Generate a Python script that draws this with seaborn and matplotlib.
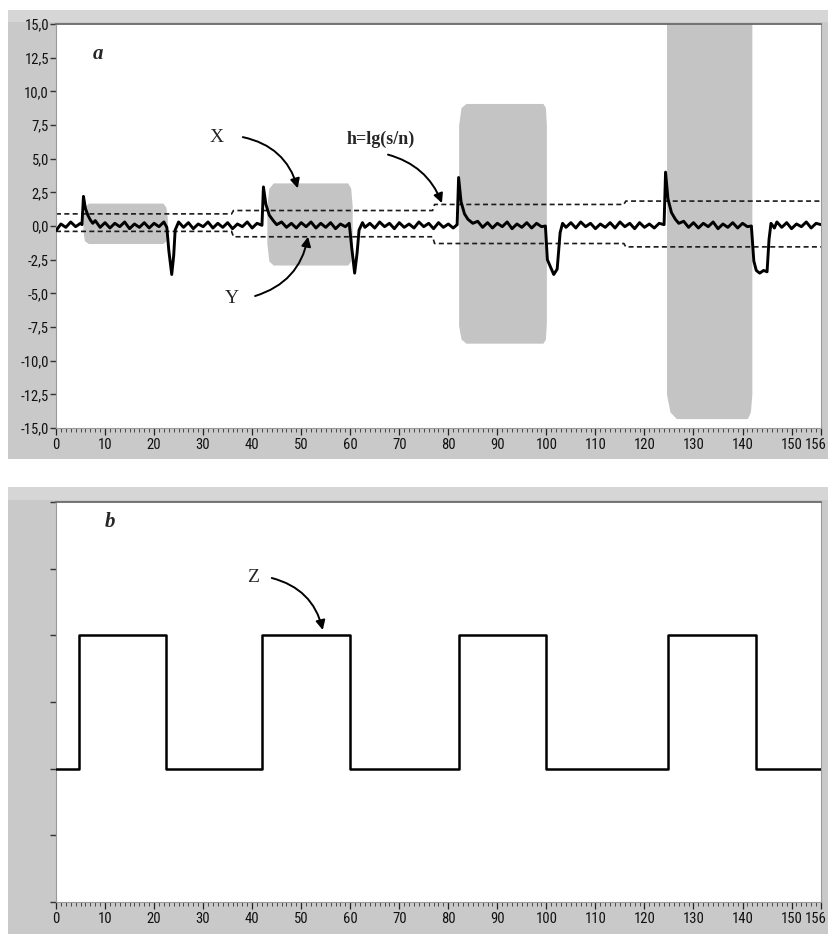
import matplotlib
matplotlib.use("Agg")
import matplotlib.pyplot as plt
from matplotlib.patches import Rectangle
from matplotlib import font_manager
import matplotlib.transforms as mtransforms
import seaborn as sns
import pandas as pd

# ---------------- data ----------------
# panel a: noisy response trace
trace_x = [0, 1, 2, 3, 4, 5, 5.3, 5.6, 6.0, 6.5, 7, 7.5, 8, 9, 10, 11, 12, 13, 14, 15, 16, 17, 18, 19, 20, 21, 22,
           22.6, 23.0, 23.6, 24.0, 24.3, 25, 26, 27, 28, 29, 30, 31, 32, 33, 34, 35, 36, 37, 38, 39, 40, 41,
           42.0, 42.3, 42.8, 43.5, 44.3, 45, 46, 47, 48, 49, 50, 51, 52, 53, 54, 55, 56, 57, 58, 59,
           59.8, 60.3, 60.9, 61.4, 61.8, 62.5, 63, 64, 65, 66, 67, 68, 69, 70, 71, 72, 73, 74, 75, 76, 77, 78, 79, 80, 81,
           81.8, 82.1, 82.6, 83.3, 84, 85, 86, 87, 88, 89, 90, 91, 92, 93, 94, 95, 96, 97, 98, 99,
           99.8, 100.2, 100.8, 101.5, 102.2, 102.8, 103.3, 104, 105, 106, 107, 108, 109, 110, 111, 112, 113, 114,
           115, 116, 117, 118, 119, 120, 121, 122, 123,
           124.0, 124.3, 124.8, 125.5, 126.3, 127, 128, 129, 130, 131, 132, 133, 134, 135, 136, 137, 138, 139, 140, 141,
           141.8, 142.3, 142.8, 143.5, 144.3, 145, 145.4, 145.8, 146.5, 147, 148, 149, 150, 151, 152, 153, 154, 155, 156]
trace_y = [-0.35, 0.15, -0.1, 0.3, -0.05, 0.2, 0.1, 2.2, 1.3, 0.8, 0.45, 0.2, 0.4, -0.1, 0.25, -0.15, 0.2, -0.05, 0.3, -0.2, 0.15, -0.1, 0.25, -0.15, 0.2, -0.05, 0.3,
           -0.1, -1.8, -3.6, -2.2, -0.3, 0.3, -0.1, 0.25, -0.2, 0.15, -0.05, 0.3, -0.15, 0.2, -0.1, 0.25, -0.2, 0.15, -0.05, 0.3, -0.15, 0.2,
           0.05, 2.9, 1.6, 0.8, 0.4, 0.1, 0.3, -0.1, 0.2, -0.15, 0.25, -0.05, 0.3, -0.15, 0.2, -0.1, 0.25, -0.2, 0.15, -0.05,
           0.2, -1.6, -3.5, -2.0, -0.3, 0.25, -0.1, 0.2, -0.15, 0.3, -0.05, 0.2, -0.2, 0.25, -0.1, 0.15, -0.15, 0.3, -0.05, 0.2, -0.2, 0.25, -0.1, 0.15, -0.15,
           0.1, 3.6, 1.8, 0.9, 0.5, 0.2, 0.35, -0.1, 0.25, -0.15, 0.2, -0.05, 0.3, -0.2, 0.15, -0.1, 0.25, -0.15, 0.2, -0.05,
           0.0, -2.5, -3.0, -3.6, -3.2, -0.5, 0.2, -0.1, 0.25, -0.15, 0.3, -0.05, 0.2, -0.2, 0.15, -0.1, 0.25, -0.15,
           0.3, -0.05, 0.2, -0.2, 0.25, -0.1, 0.15, -0.15, 0.2,
           0.1, 4.0, 2.0, 1.0, 0.5, 0.2, 0.35, -0.1, 0.25, -0.15, 0.2, -0.05, 0.3, -0.2, 0.15, -0.1, 0.25, -0.15, 0.2, -0.05,
           0.0, -2.6, -3.3, -3.5, -3.3, -3.4, -1.0, 0.2, -0.15, 0.3, -0.1, 0.25, -0.2, 0.15, -0.05, 0.3, -0.15, 0.2, 0.1]

# panel a: grey stimulus bursts (envelope upper/lower)
burst1_x = [5.5, 5.8, 6.6, 21.8, 22.4, 22.7]
burst1_hi = [0.6, 1.4, 1.7, 1.7, 1.4, 0.6]
burst1_lo = [-0.4, -1.1, -1.3, -1.3, -1.1, -0.4]
burst2_x = [43.0, 43.4, 44.3, 59.5, 60.1, 60.4]
burst2_hi = [1.5, 2.8, 3.2, 3.2, 2.8, 1.5]
burst2_lo = [-1.3, -2.6, -2.9, -2.9, -2.6, -1.3]
burst3_x = [82.1, 82.6, 83.6, 99.3, 99.8, 100.0]
burst3_hi = [7.5, 8.8, 9.1, 9.1, 8.8, 7.5]
burst3_lo = [-7.4, -8.4, -8.7, -8.7, -8.4, -7.2]
burst4_x = [124.5, 125.2, 126.5, 141.0, 141.6, 141.9]
burst4_hi = [15.5, 17.0, 17.5, 17.5, 17.0, 15.5]
burst4_lo = [-12.5, -13.8, -14.3, -14.3, -13.8, -12.5]

# panel a: threshold h = lg(s/n) (dashed)
thr_x = [0, 35.8, 36.2, 76.8, 77.2, 115.8, 116.2, 156]
thr_hi = [0.9, 0.9, 1.15, 1.15, 1.6, 1.6, 1.85, 1.85]
thr_lo = [-0.4, -0.4, -0.8, -0.8, -1.3, -1.3, -1.55, -1.55]

# panel b: square wave Z
sq_x = [0, 4.7, 22.4, 42.0, 59.9, 82.1, 99.9, 124.7, 142.7, 156]
sq_y = [2, 4, 2, 4, 2, 4, 2, 4, 2, 2]

x_major = [0, 10, 20, 30, 40, 50, 60, 70, 80, 90, 100, 110, 120, 130, 140, 150, 156]
y_ticks_a = [-15.0, -12.5, -10.0, -7.5, -5.0, -2.5, 0.0, 2.5, 5.0, 7.5, 10.0, 12.5, 15.0]
y_ticks_b = [0, 1, 2, 3, 4, 5, 6]

# ---------------- style ----------------
sns.set_theme(style="white")
def pick(names):
    for n in names:
        try:
            font_manager.findfont(n, fallback_to_default=False)
            return n
        except Exception:
            pass
    return "DejaVu Sans"
tick_font = pick(["Liberation Sans Narrow", "Roboto Condensed", "DejaVu Sans Condensed", "Liberation Sans"])
serif = pick(["Liberation Serif", "DejaVu Serif"])
plt.rcParams["font.family"] = [tick_font, "DejaVu Sans"]

W, H = 829, 934
fig = plt.figure(figsize=(W / 100, H / 100), dpi=100)
fig.patch.set_facecolor("white")

# grey instrument frames
frame_col = "#c9c9c9"
fig.add_artist(Rectangle((8 / W, 1 - 459 / H), (W - 8) / W, (459 - 10) / H,
                         transform=fig.transFigure, facecolor=frame_col, edgecolor="none", zorder=0))
fig.add_artist(Rectangle((8 / W, 1 - 934 / H), (W - 8) / W, (934 - 487) / H,
                         transform=fig.transFigure, facecolor=frame_col, edgecolor="none", zorder=0))
fig.add_artist(Rectangle((8 / W, 1 - 22 / H), (W - 8) / W, 12 / H,
                         transform=fig.transFigure, facecolor="#d6d6d6", edgecolor="none", zorder=0))
fig.add_artist(Rectangle((8 / W, 1 - 500 / H), (W - 8) / W, 13 / H,
                         transform=fig.transFigure, facecolor="#d6d6d6", edgecolor="none", zorder=0))

ax1 = fig.add_axes([56 / W, 1 - 428 / H, 765 / W, 404 / H])
ax2 = fig.add_axes([56 / W, 1 - 902 / H, 765 / W, 400 / H])

for ax in (ax1, ax2):
    ax.set_facecolor("white")
    ax.set_xlim(0, 156)
    ax.set_xticks(x_major)
    ax.set_xticklabels([str(v) for v in x_major])
    ax.set_xticks(list(range(0, 157)), minor=True)
    ax.tick_params(axis="x", which="major", direction="out", length=5, width=0.9, color="#222222",
                   labelsize=10.5, labelcolor="#111111", pad=2.5, bottom=True)
    ax.tick_params(axis="x", which="minor", direction="out", length=3, width=0.6, color="#333333", bottom=True)
    ax.tick_params(axis="y", which="major", direction="out", length=4, width=1.0, color="#333333",
                   labelsize=10.5, labelcolor="#111111", pad=1, left=True)
    for s in ["left", "bottom", "right"]:
        ax.spines[s].set_color("#9a9a9a")
        ax.spines[s].set_linewidth(0.8)
    ax.spines["top"].set_color("#6a6a6a")
    ax.spines["top"].set_linewidth(1.3)

# ---- panel a ----
ax1.set_ylim(-15, 15)
ax1.set_yticks(y_ticks_a)
ax1.set_yticklabels([f"{v:.1f}".replace(".", ",") for v in y_ticks_a])

grey = "#c4c4c4"
for bx, bh, bl in [(burst1_x, burst1_hi, burst1_lo), (burst2_x, burst2_hi, burst2_lo),
                   (burst3_x, burst3_hi, burst3_lo), (burst4_x, burst4_hi, burst4_lo)]:
    ax1.fill_between(bx, bl, bh, color=grey, linewidth=0, zorder=1)

ax1.plot(thr_x, thr_hi, color="#1a1a1a", linestyle=(0, (3, 2)), linewidth=1.2, zorder=2)
ax1.plot(thr_x, thr_lo, color="#1a1a1a", linestyle=(0, (3, 2)), linewidth=1.2, zorder=2)

df_a = pd.DataFrame({"t": trace_x, "v": trace_y})
sns.lineplot(data=df_a, x="t", y="v", ax=ax1, color="black", linewidth=2.1, sort=False,
             estimator=None, zorder=3)
ax1.set_xlabel("")
ax1.set_ylabel("")

arrow = dict(arrowstyle="-|>", color="black", lw=1.4, mutation_scale=14, shrinkA=0, shrinkB=0)
ax1.text(8.6, 12.8, "a", fontfamily=serif, fontsize=15, fontweight="bold", fontstyle="italic",
         ha="center", va="center")
ax1.text(32.8, 6.6, "X", fontfamily=serif, fontsize=14, ha="center", va="center")
ax1.annotate("", xy=(49.3, 2.8), xytext=(38.1, 6.6),
             arrowprops=dict(connectionstyle="arc3,rad=-0.3", **arrow))
ax1.text(35.9, -5.35, "Y", fontfamily=serif, fontsize=14, ha="center", va="center")
ax1.annotate("", xy=(51.4, -0.8), xytext=(40.6, -5.2),
             arrowprops=dict(connectionstyle="arc3,rad=0.3", **arrow))
ax1.text(66.3, 6.4, "h=lg(s/n)", fontfamily=serif, fontsize=13, fontweight="bold",
         ha="center", va="center")
ax1.annotate("", xy=(78.7, 1.7), xytext=(67.7, 5.3),
             arrowprops=dict(connectionstyle="arc3,rad=-0.25", **arrow))

# ---- panel b ----
ax2.set_ylim(0, 6)
ax2.set_yticks(y_ticks_b)
ax2.set_yticklabels([])
df_b = pd.DataFrame({"t": sq_x, "v": sq_y})
sns.lineplot(data=df_b, x="t", y="v", ax=ax2, color="black", linewidth=1.8, sort=False,
             estimator=None, drawstyle="steps-post", zorder=3)
ax2.set_xlabel("")
ax2.set_ylabel("")
ax2.text(11.0, 5.7, "b", fontfamily=serif, fontsize=15, fontweight="bold", fontstyle="italic",
         ha="center", va="center")
ax2.text(40.1, 4.86, "Z", fontfamily=serif, fontsize=14, ha="center", va="center")
ax2.annotate("", xy=(54.4, 4.08), xytext=(44.0, 4.86),
             arrowprops=dict(connectionstyle="arc3,rad=-0.3", **arrow))

# keep the last "156" label inside the frame
shift = mtransforms.ScaledTranslation(-5 / 100, 0, fig.dpi_scale_trans)
for ax in (ax1, ax2):
    lbl = ax.get_xticklabels()[-1]
    lbl.set_transform(lbl.get_transform() + shift)

fig.savefig("out.png", dpi=100, facecolor="white")
